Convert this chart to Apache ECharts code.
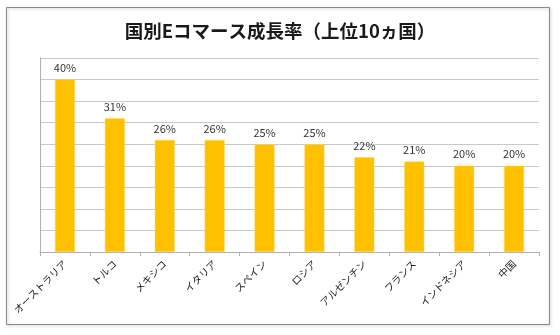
<!DOCTYPE html>
<html>
<head>
<meta charset="utf-8">
<script src="https://cdn.jsdelivr.net/npm/echarts@6/dist/echarts.min.js"></script>
<style>
  html, body { margin: 0; padding: 0; background: #fff; }
  #chart { width: 560px; height: 335px; }
</style>
</head>
<body>
<div id="chart"></div>
<script>
// E-commerce growth rate by country, top 10 (%)
const countries = ['オーストラリア', 'トルコ', 'メキシコ', 'イタリア', 'スペイン', 'ロシア', 'アルゼンチン', 'フランス', 'インドネシア', '中国'];
const growthRates = [40, 31, 26, 26, 25, 25, 22, 21, 20, 20];
const titleText = '国別Eコマース成長率（上位10ヵ国）';

const jpFont = '"Noto Sans CJK JP", "Noto Sans", sans-serif';

const chart = echarts.init(document.getElementById('chart'), null, { renderer: 'canvas' });
chart.setOption({
  animation: false,
  backgroundColor: '#ffffff',
  title: {
    text: titleText,
    left: 'center',
    top: 17,
    textStyle: { fontFamily: jpFont, fontSize: 18.5, fontWeight: 'bold', color: '#1a1a1a' }
  },
  graphic: [{
    type: 'rect',
    shape: { x: 6.5, y: 7.5, width: 543, height: 317 },
    style: { fill: 'none', stroke: '#8a8a8a', lineWidth: 1, shadowColor: 'rgba(0,0,0,0.25)', shadowBlur: 3, shadowOffsetX: 1, shadowOffsetY: 1 },
    z: -1
  }],
  grid: { left: 40, right: 21, top: 58, bottom: 83, containLabel: false },
  xAxis: {
    type: 'category',
    data: countries,
    axisLine: { lineStyle: { color: '#b0b0b0' } },
    axisTick: { show: true, length: 4, lineStyle: { color: '#b0b0b0' } },
    axisLabel: { rotate: 45, margin: 10, fontFamily: jpFont, fontSize: 10, color: '#1a1a1a', interval: 0 }
  },
  yAxis: {
    type: 'value',
    min: 0,
    max: 45,
    interval: 5,
    axisLine: { show: true, lineStyle: { color: '#b0b0b0' } },
    axisTick: { show: false },
    axisLabel: { show: false },
    splitLine: { lineStyle: { color: '#c8c8c8' } }
  },
  series: [{
    type: 'bar',
    data: growthRates,
    barWidth: 20,
    itemStyle: { color: '#FFC000', borderColor: '#FFD966', borderWidth: 0.5 },
    label: {
      show: true,
      position: 'top',
      distance: 6,
      formatter: '{c}%',
      fontFamily: jpFont,
      fontSize: 11,
      color: '#333333'
    }
  }]
});
</script>
</body>
</html>
